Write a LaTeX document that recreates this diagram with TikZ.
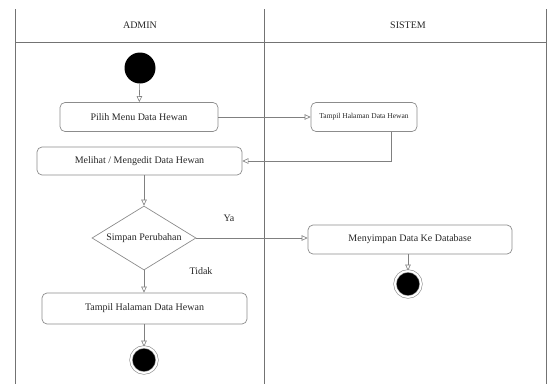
\documentclass[tikz,border=0pt]{standalone}
\usepackage{fontspec}
\setmainfont{Liberation Serif}
\usepackage{tikz}
\usetikzlibrary{arrows.meta}
\usetikzlibrary{shapes}

\begin{document}
\begin{tikzpicture}[x=1pt, y=-1pt,
    every node/.style={font=\fontsize{10}{12}\selectfont, text=black!85},
    lane/.style={draw=black!55, line width=0.8pt},
    activity/.style={draw=black!45, line width=0.7pt, rounded corners=5pt, minimum height=29pt, inner sep=0pt},
    decision/.style={diamond, draw=black!45, line width=0.7pt, aspect=1.6, inner sep=0pt, minimum width=104pt, minimum height=64pt},
    flow/.style={draw=black!50, line width=0.6pt, -{Triangle[open, length=6pt, width=5.5pt]}},
    startstate/.style={circle, fill=black, minimum size=31pt, inner sep=0pt},
    endstate/.style={circle, fill=black, draw=black!45, line width=0.6pt, double=white, double distance=2pt, minimum size=26pt, inner sep=0pt}]
  \useasboundingbox (0, 0) rectangle (558, 384);

  \draw[lane] (15, 9) -- (15, 384);
  \draw[lane] (264, 9) -- (264, 384);
  \draw[lane] (546, 9) -- (546, 384);
  \draw[lane] (15, 42) -- (546, 42);
  \node (admin) at (140, 25) {ADMIN};
  \node (sistem) at (408, 25) {SISTEM};

  \node[startstate] (mulai) at (140, 68) {};
  \node[activity, minimum width=158pt] (pilih) at (139, 117) {Pilih Menu Data Hewan};
  \node[activity, minimum width=106pt, font=\fontsize{7.5}{9}\selectfont] (tampilsistem) at (364, 117) {Tampil Halaman Data Hewan};
  \node[activity, minimum width=205pt, minimum height=28pt] (melihat) at (139.5, 161) {Melihat / Mengedit Data Hewan};
  \node[decision] (simpan) at (144, 238) {Simpan Perubahan};
  \node[activity, minimum width=204pt] (menyimpan) at (410, 239.5) {Menyimpan Data Ke Database};
  \node[endstate] (selesaisistem) at (408, 284) {};
  \node[activity, minimum width=205pt, minimum height=31pt] (tampiladmin) at (144.5, 308.5) {Tampil Halaman Data Hewan};
  \node[endstate] (selesaiadmin) at (144, 360) {};

  \node (ya) at (229, 218) {Ya};
  \node (tidak) at (201, 271) {Tidak};

  \draw[flow] (mulai) -- (pilih);
  \draw[flow] (pilih) -- (tampilsistem);
  \draw[flow] ([xshift=27pt]tampilsistem.south) |- (melihat.east);
  \draw[flow] (melihat.south -| simpan) -- (simpan.north);
  \draw[flow] (simpan.east) -- (menyimpan.west |- simpan.east);
  \draw[flow] (simpan.south) -- (tampiladmin.north -| simpan);
  \draw[flow] (menyimpan.south -| selesaisistem) -- (selesaisistem);
  \draw[flow] (tampiladmin.south -| selesaiadmin) -- (selesaiadmin);
\end{tikzpicture}
\end{document}
